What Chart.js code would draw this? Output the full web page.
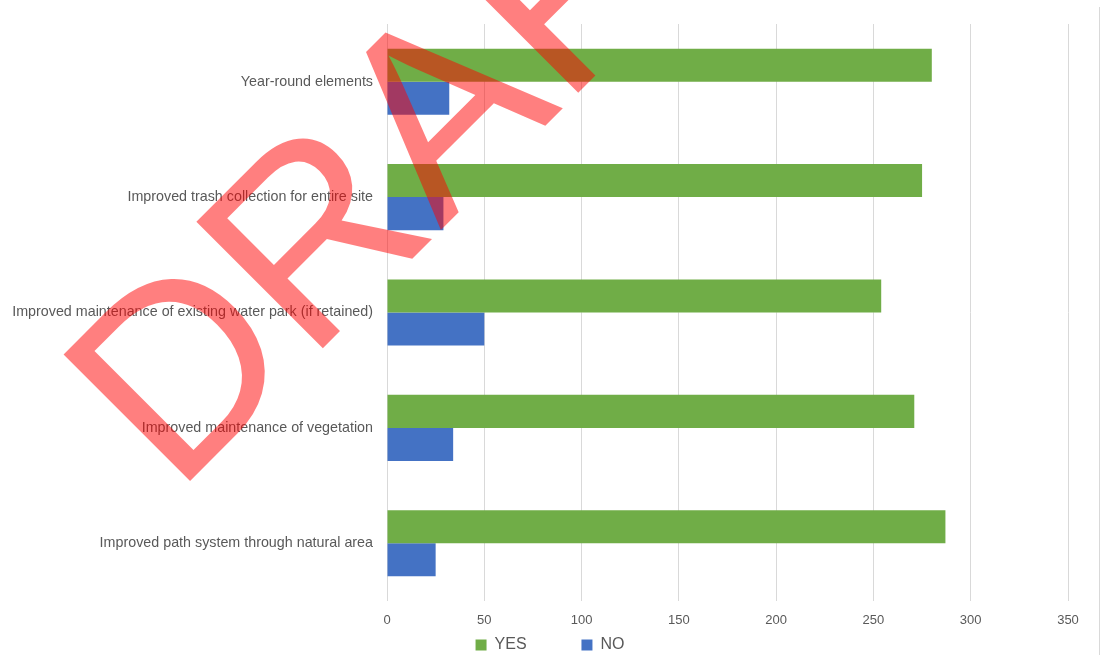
<!DOCTYPE html>
<html>
<head>
<meta charset="utf-8">
<script src="https://cdn.jsdelivr.net/npm/chart.js@4.4.1/dist/chart.umd.min.js"></script>
<style>
  html, body { margin: 0; padding: 0; background: #fff; }
  #wrap { width: 1100px; height: 655px; position: relative; }
</style>
</head>
<body>
<div id="wrap"><canvas id="surveyChart"></canvas></div>
<script>
// categories, top to bottom
const categories = [
  "Year-round elements",
  "Improved trash collection for entire site",
  "Improved maintenance of existing water park (if retained)",
  "Improved maintenance of vegetation",
  "Improved path system through natural area",
];
const yesValues = [280, 275, 254, 271, 287];
const noValues = [32, 29, 50, 34, 25];
const xTicks = [0, 50, 100, 150, 200, 250, 300, 350];
const watermarkText = "DRAFT";

const labelColor = "#595959";
const gridColor = "#d9d9d9";
const fontFamily = "'Liberation Sans', Arial, sans-serif";

// watermark + right frame edge
const draftPlugin = {
  id: "draftMark",
  afterDraw(chart) {
    const ctx = chart.ctx;
    ctx.save();
    ctx.strokeStyle = gridColor;
    ctx.lineWidth = 1;
    ctx.beginPath();
    ctx.moveTo(1099.5, 7);
    ctx.lineTo(1099.5, 655);
    ctx.stroke();

    ctx.translate(175, 496);
    ctx.rotate(-45 * Math.PI / 180);
    ctx.font = "260px " + fontFamily;
    ctx.fillStyle = "rgba(255, 0, 0, 0.5)";
    ctx.textAlign = "left";
    ctx.textBaseline = "alphabetic";
    ctx.fillText(watermarkText, 0, 0);
    ctx.restore();
  },
};

new Chart(document.getElementById("surveyChart"), {
  type: "bar",
  data: {
    labels: categories,
    datasets: [
      {
        label: "YES",
        data: yesValues,
        backgroundColor: "#70AD47",
        categoryPercentage: 0.573,
        barPercentage: 1,
      },
      {
        label: "NO",
        data: noValues,
        backgroundColor: "#4472C4",
        categoryPercentage: 0.573,
        barPercentage: 1,
      },
    ],
  },
  options: {
    indexAxis: "y",
    responsive: true,
    maintainAspectRatio: false,
    animation: false,
    layout: {
      padding: { top: 24, right: 0, bottom: -8, left: 0 },
    },
    plugins: {
      legend: {
        display: true,
        position: "bottom",
        labels: {
          boxWidth: 11,
          boxHeight: 11,
          padding: 6,
          color: labelColor,
          font: { family: fontFamily, size: 16 },
          // wide gap between the two items, like the original legend
          generateLabels(chart) {
            const items = Chart.defaults.plugins.legend.labels.generateLabels(chart);
            items[0].text = items[0].text + "\u00A0".repeat(11);
            return items;
          },
        },
      },
      tooltip: { enabled: false },
    },
    scales: {
      x: {
        min: 0,
        max: 350,
        afterBuildTicks(scale) {
          scale.ticks = xTicks.map((v) => ({ value: v }));
        },
        afterFit(scale) {
          scale.height = 30;
        },
        border: { display: false },
        grid: { color: gridColor, drawTicks: false },
        ticks: {
          padding: 12,
          color: labelColor,
          font: { family: fontFamily, size: 13 },
        },
      },
      y: {
        afterFit(scale) {
          scale.width = 387;
        },
        border: { display: false },
        grid: { display: false, drawTicks: false },
        ticks: {
          padding: 14,
          color: labelColor,
          font: { family: fontFamily, size: 14.3 },
        },
      },
      // empty right-hand strip so the plot ends at 350 while the legend stays centred on the page
      yRight: {
        type: "category",
        position: "right",
        afterFit(scale) {
          scale.width = 32;
        },
        border: { display: false },
        grid: { display: false, drawTicks: false },
        ticks: { display: false },
      },
    },
  },
  plugins: [draftPlugin],
});
</script>
</body>
</html>
